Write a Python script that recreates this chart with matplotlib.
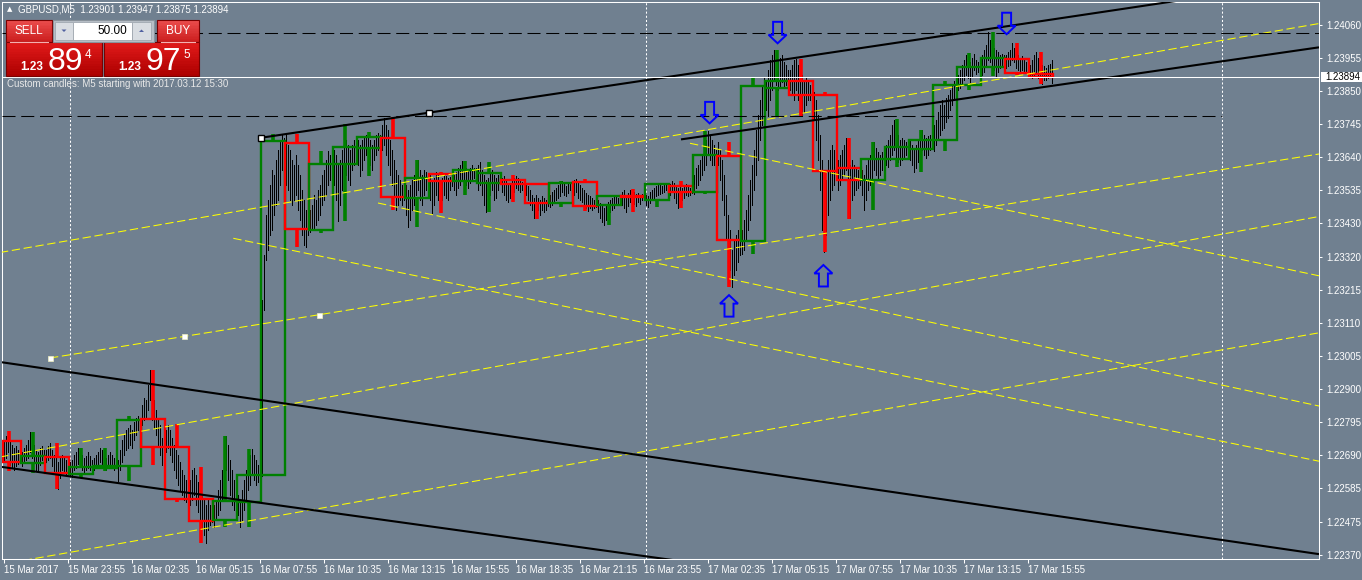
import numpy as np
import matplotlib
matplotlib.use("Agg")
import matplotlib.pyplot as plt
from matplotlib.patches import Rectangle, Polygon

# ---------------- data ----------------
# prices are stored in points (1 point = 0.00001)
# hourly custom candles (first one starts 3 bars before the first M5 bar)
h1_open = [122735, 122663, 122684, 122629, 122647, 122654, 122806, 122716, 122549, 122482, 122541,
           122626, 123682, 123406, 123618, 123668, 123700, 123509, 123584, 123563, 123555, 123565,
           123552, 123491, 123560, 123486, 123515, 123502, 123546, 123527, 123643, 123371, 123858,
           123882, 123836, 123603, 123565, 123634, 123664, 123693, 123868, 123926, 123951, 123903]
h1_high = [122767, 122764, 122729, 122713, 122713, 122815, 122960, 122787, 122650, 122751, 122709,
           123711, 123711, 123659, 123744, 123717, 123765, 123629, 123592, 123627, 123624, 123581,
           123555, 123563, 123569, 123515, 123536, 123555, 123563, 123722, 123687, 123891, 123979,
           123951, 123847, 123701, 123687, 123759, 123725, 123882, 123969, 124038, 124003, 123974]
h1_low = [122639, 122634, 122581, 122617, 122639, 122607, 122658, 122541, 122408, 122461, 122461,
          122623, 123353, 123397, 123436, 123578, 123470, 123417, 123459, 123518, 123464, 123496,
          123443, 123480, 123468, 123422, 123464, 123480, 123475, 123521, 123226, 123329, 123769,
          123769, 123337, 123443, 123470, 123608, 123590, 123658, 123852, 123897, 123900, 123871]
h1_close = [122666, 122686, 122633, 122650, 122654, 122801, 122716, 122549, 122479, 122544, 122626,
            123690, 123411, 123618, 123671, 123703, 123512, 123573, 123563, 123597, 123587, 123552,
            123491, 123555, 123483, 123514, 123510, 123552, 123527, 123646, 123374, 123865, 123882,
            123836, 123594, 123565, 123634, 123671, 123693, 123868, 123926, 123953, 123905, 123894]

# M5 bars (black bar chart), one line per hour
m5_high = [
    122738, 122750, 122766, 122738, 122722, 122712, 122719, 122706, 122699,
    122699, 122712, 122722, 122738, 122763, 122738, 122722, 122706, 122699, 122712, 122719, 122706,
    122706, 122719, 122728, 122706, 122690, 122680, 122668, 122680, 122690, 122680, 122674, 122668,
    122668, 122674, 122690, 122699, 122712, 122706, 122690, 122680, 122687, 122699, 122687, 122674,
    122680, 122690, 122699, 122712, 122706, 122690, 122680, 122690, 122699, 122690, 122680, 122680,
    122674, 122706, 122738, 122754, 122769, 122776, 122785, 122769, 122795, 122808, 122814, 122808,
    122849, 122871, 122865, 122913, 122961, 122897, 122865, 122833, 122801, 122785, 122744, 122763,
    122769, 122785, 122769, 122744, 122722, 122706, 122690, 122668, 122642, 122626, 122610, 122585,
    122610, 122642, 122648, 122626, 122604, 122578, 122562, 122546, 122531, 122546, 122531, 122515,
    122531, 122546, 122578, 122610, 122642, 122690, 122750, 122722, 122674, 122642, 122610, 122578,
    122562, 122546, 122578, 122610, 122642, 122674, 122690, 122709, 122690, 122674, 122658, 122642,
    123183, 123327, 123454, 123502, 123550, 123598, 123582, 123629, 123661, 123693, 123712, 123699,
    123709, 123677, 123661, 123629, 123613, 123645, 123613, 123582, 123534, 123502, 123470, 123454,
    123470, 123486, 123518, 123502, 123534, 123550, 123582, 123598, 123629, 123658, 123645, 123636,
    123661, 123645, 123613, 123629, 123661, 123744, 123693, 123677, 123661, 123677, 123693, 123687,
    123693, 123677, 123693, 123699, 123709, 123719, 123693, 123677, 123693, 123709, 123715, 123709,
    123741, 123763, 123741, 123725, 123693, 123661, 123629, 123598, 123582, 123566, 123550, 123534,
    123550, 123534, 123550, 123566, 123582, 123613, 123629, 123598, 123582, 123598, 123591, 123582,
    123582, 123566, 123572, 123591, 123582, 123566, 123572, 123582, 123578, 123572, 123575, 123572,
    123582, 123591, 123604, 123613, 123626, 123613, 123604, 123598, 123604, 123613, 123604, 123604,
    123613, 123623, 123598, 123582, 123566, 123572, 123591, 123598, 123582, 123572, 123582, 123588,
    123572, 123578, 123566, 123550, 123556, 123566, 123572, 123578, 123572, 123566, 123559, 123556,
    123553, 123547, 123534, 123518, 123508, 123518, 123508, 123502, 123515, 123508, 123502, 123502,
    123518, 123527, 123534, 123540, 123550, 123556, 123562, 123553, 123547, 123556, 123559, 123556,
    123566, 123569, 123559, 123550, 123540, 123534, 123524, 123518, 123515, 123508, 123502, 123496,
    123502, 123492, 123486, 123477, 123486, 123496, 123502, 123508, 123511, 123515, 123508, 123511,
    123527, 123534, 123518, 123524, 123534, 123537, 123527, 123521, 123524, 123518, 123521, 123518,
    123518, 123515, 123527, 123534, 123540, 123547, 123550, 123553, 123547, 123550, 123553, 123553,
    123553, 123562, 123556, 123547, 123540, 123550, 123540, 123547, 123553, 123547, 123540, 123537,
    123582, 123604, 123613, 123629, 123645, 123661, 123693, 123722, 123709, 123693, 123677, 123661,
    123687, 123661, 123629, 123582, 123518, 123454, 123406, 123343, 123375, 123391, 123406, 123400,
    123406, 123438, 123470, 123518, 123566, 123613, 123661, 123725, 123773, 123820, 123868, 123891,
    123884, 123916, 123948, 123964, 123980, 123964, 123948, 123954, 123964, 123942, 123932, 123916,
    123916, 123932, 123948, 123951, 123932, 123916, 123900, 123884, 123891, 123884, 123868, 123859,
    123846, 123820, 123773, 123709, 123629, 123502, 123566, 123629, 123661, 123677, 123661, 123629,
    123629, 123645, 123661, 123677, 123699, 123661, 123613, 123629, 123613, 123604, 123598, 123591,
    123598, 123582, 123613, 123629, 123645, 123661, 123687, 123668, 123655, 123645, 123655, 123645,
    123677, 123693, 123709, 123741, 123757, 123725, 123709, 123693, 123699, 123693, 123687, 123680,
    123693, 123677, 123668, 123677, 123693, 123709, 123725, 123709, 123699, 123706, 123709, 123703,
    123741, 123757, 123782, 123805, 123820, 123805, 123827, 123836, 123852, 123868, 123881, 123875,
    123900, 123916, 123932, 123948, 123964, 123948, 123942, 123954, 123967, 123948, 123942, 123935,
    123964, 123980, 123996, 124037, 124012, 123996, 123986, 123980, 123973, 123964, 123967, 123964,
    123964, 123973, 123980, 124002, 123986, 123973, 123964, 123954, 123961, 123948, 123942, 123932,
    123932, 123948, 123964, 123973, 123954, 123942, 123932, 123929, 123922, 123932, 123935, 123947,
]
m5_low = [
    122668, 122680, 122699, 122658, 122648, 122642, 122655, 122661, 122664,
    122655, 122668, 122674, 122680, 122699, 122680, 122668, 122642, 122636, 122658, 122674, 122680,
    122668, 122674, 122680, 122655, 122636, 122610, 122582, 122617, 122642, 122636, 122626, 122629,
    122623, 122620, 122642, 122648, 122661, 122655, 122642, 122636, 122642, 122648, 122642, 122648,
    122642, 122648, 122655, 122668, 122661, 122648, 122642, 122655, 122661, 122652, 122642, 122648,
    122607, 122642, 122668, 122690, 122706, 122712, 122722, 122712, 122738, 122754, 122769, 122776,
    122785, 122801, 122808, 122833, 122865, 122801, 122776, 122754, 122722, 122690, 122658, 122712,
    122699, 122712, 122690, 122668, 122642, 122617, 122594, 122578, 122562, 122546, 122540, 122546,
    122531, 122546, 122562, 122531, 122508, 122483, 122457, 122435, 122410, 122451, 122467, 122476,
    122461, 122483, 122499, 122515, 122546, 122578, 122642, 122610, 122562, 122531, 122515, 122531,
    122499, 122461, 122483, 122515, 122546, 122578, 122594, 122626, 122610, 122594, 122604, 122610,
    122623, 123152, 123311, 123343, 123391, 123406, 123454, 123486, 123502, 123550, 123598, 123629,
    123550, 123534, 123502, 123486, 123502, 123518, 123470, 123438, 123391, 123359, 123352, 123391,
    123400, 123406, 123413, 123422, 123438, 123454, 123486, 123502, 123518, 123550, 123566, 123591,
    123550, 123502, 123435, 123486, 123534, 123598, 123582, 123566, 123550, 123598, 123613, 123629,
    123613, 123578, 123598, 123629, 123645, 123636, 123613, 123598, 123629, 123645, 123661, 123677,
    123661, 123677, 123645, 123613, 123582, 123550, 123518, 123470, 123486, 123502, 123486, 123502,
    123454, 123416, 123438, 123470, 123486, 123518, 123534, 123502, 123486, 123518, 123534, 123550,
    123502, 123461, 123486, 123518, 123502, 123470, 123502, 123518, 123508, 123502, 123534, 123547,
    123534, 123518, 123540, 123550, 123566, 123559, 123550, 123540, 123556, 123566, 123572, 123582,
    123534, 123550, 123518, 123486, 123464, 123502, 123518, 123534, 123502, 123508, 123534, 123556,
    123527, 123518, 123502, 123496, 123508, 123518, 123527, 123540, 123534, 123527, 123534, 123540,
    123518, 123502, 123486, 123470, 123445, 123464, 123470, 123454, 123470, 123464, 123470, 123483,
    123480, 123486, 123496, 123502, 123508, 123515, 123527, 123518, 123515, 123524, 123534, 123540,
    123518, 123527, 123508, 123502, 123496, 123486, 123477, 123467, 123477, 123470, 123477, 123480,
    123464, 123445, 123432, 123422, 123438, 123454, 123464, 123470, 123477, 123486, 123489, 123496,
    123486, 123477, 123464, 123483, 123496, 123502, 123489, 123483, 123496, 123489, 123502, 123505,
    123486, 123480, 123492, 123502, 123508, 123515, 123518, 123521, 123524, 123527, 123534, 123540,
    123518, 123527, 123508, 123492, 123477, 123486, 123502, 123508, 123518, 123515, 123518, 123524,
    123521, 123540, 123550, 123566, 123582, 123598, 123613, 123645, 123629, 123613, 123613, 123629,
    123613, 123566, 123502, 123454, 123375, 123311, 123279, 123225, 123263, 123279, 123305, 123327,
    123330, 123343, 123375, 123406, 123438, 123486, 123534, 123582, 123629, 123693, 123741, 123805,
    123789, 123770, 123820, 123852, 123884, 123868, 123852, 123859, 123878, 123859, 123868, 123868,
    123852, 123836, 123820, 123852, 123820, 123789, 123770, 123782, 123805, 123820, 123820, 123827,
    123757, 123693, 123629, 123534, 123406, 123336, 123391, 123454, 123502, 123534, 123550, 123572,
    123534, 123550, 123566, 123582, 123598, 123502, 123445, 123502, 123518, 123534, 123540, 123550,
    123518, 123470, 123502, 123534, 123550, 123566, 123598, 123582, 123572, 123582, 123598, 123613,
    123613, 123607, 123629, 123645, 123661, 123636, 123623, 123613, 123629, 123636, 123645, 123655,
    123629, 123613, 123591, 123604, 123623, 123636, 123661, 123645, 123636, 123645, 123661, 123677,
    123658, 123677, 123693, 123709, 123725, 123731, 123750, 123763, 123789, 123805, 123820, 123836,
    123852, 123859, 123868, 123884, 123900, 123891, 123878, 123897, 123916, 123903, 123910, 123916,
    123900, 123910, 123932, 123948, 123942, 123922, 123916, 123897, 123910, 123922, 123929, 123942,
    123922, 123929, 123932, 123948, 123942, 123922, 123916, 123910, 123916, 123910, 123906, 123906,
    123897, 123891, 123900, 123910, 123891, 123878, 123871, 123884, 123884, 123891, 123897, 123875,
]

# trend lines: (bar1, price1, bar2, price2), drawn as rays to the right
black_trends = [(128.5, 1.23700, 212.5, 1.23780),
                (338.7, 1.23695, 518.2, 1.23860),
                (-1.8, 1.22986, 518.2, 1.225035),
                (-1.8, 1.226526, 148.2, 1.22520)]
yellow_trends = [(-1.8, 1.233348, 657.7, 1.24064),
                 (23.2, 1.229988, 657.7, 1.236485),
                 (-1.8, 1.226835, 657.7, 1.234494),
                 (-1.8, 1.223407, 657.2, 1.230784),
                 (114.85, 1.23380, 657.2, 1.226707),
                 (187.2, 1.234924, 657.2, 1.228465),
                 (343.2, 1.236826, 657.2, 1.232612)]
yellow_anchor_bars = [23.2, 90.35, 157.85]   # points on the 2nd yellow line
black_anchor_bars = [128.5, 212.5]           # points on the 1st black line
hlines_price = [1.24035, 1.23771]
hlines_end = [657.7, 609]
day_separators = [33, 321, 609]
bid_price = 1.23894

arrow_down = [(353, 1.23746), (387, 1.24001), (501.5, 1.24030)]
arrow_up = [(362.7, 1.23199), (409.9, 1.23295)]

y_ticks = [1.24060, 1.23955, 1.23850, 1.23745, 1.23640, 1.23535, 1.23430, 1.23320, 1.23215,
           1.23110, 1.23005, 1.22900, 1.22795, 1.22690, 1.22585, 1.22475, 1.22370]
x_labels = ["15 Mar 2017", "15 Mar 23:55", "16 Mar 02:35", "16 Mar 05:15", "16 Mar 07:55",
            "16 Mar 10:35", "16 Mar 13:15", "16 Mar 15:55", "16 Mar 18:35", "16 Mar 21:15",
            "16 Mar 23:55", "17 Mar 02:35", "17 Mar 05:15", "17 Mar 07:55", "17 Mar 10:35",
            "17 Mar 13:15", "17 Mar 15:55"]

# ---------------- plot ----------------
plt.rcParams['font.family'] = ['Liberation Sans', 'DejaVu Sans']
bg = '#708090'
W, H = 1362, 580
XMIN, XMAX = -0.8, 657.7

fig = plt.figure(figsize=(W / 100, H / 100), dpi=100, facecolor=bg)
ax = fig.add_axes([2 / W, (H - 559.3) / H, 1317 / W, 557.3 / H])
ax.set_facecolor(bg)
ax.set_xlim(XMIN, XMAX)
ax.set_ylim(1.223576, 1.241326)

# day separators
for b in day_separators:
    ax.axvline(b, color='white', lw=0.75, ls=(0, (2, 2)), zorder=1)

# M5 bars
hi = np.array(m5_high) / 1e5
lo = np.array(m5_low) / 1e5
bars = np.arange(len(hi))
ax.vlines(bars, lo, hi, color='black', lw=0.5, antialiased=False, zorder=2)

# hourly custom candles
for k in range(len(h1_open)):
    o, h, l, c = h1_open[k] / 1e5, h1_high[k] / 1e5, h1_low[k] / 1e5, h1_close[k] / 1e5
    start = -3 + 12 * k
    left = max(start, 0) - 0.3
    right = start + 12 - 0.3
    mid = start + 5.7
    col = '#008000' if c >= o else '#FF0000'
    top, bot = max(o, c), min(o, c)
    ax.add_patch(Rectangle((left, bot), right - left, top - bot, fill=False,
                           ec=col, lw=1.7, zorder=3))
    if h > top:
        ax.vlines(mid, top, h, color=col, lw=2.6, zorder=3)
    if l < bot:
        ax.vlines(mid, l, bot, color=col, lw=2.6, zorder=3)


def ray(b1, p1, b2, p2):
    slope = (p2 - p1) / (b2 - b1)
    return [b1, XMAX], [p1, p1 + slope * (XMAX - b1)]


for b1, p1, b2, p2 in yellow_trends:
    xs, ys = ray(b1, p1, b2, p2)
    ax.plot(xs, ys, color='#FFFF00', lw=0.75, ls=(0, (8, 3.5)), zorder=4)

for b1, p1, b2, p2 in black_trends:
    xs, ys = ray(b1, p1, b2, p2)
    ax.plot(xs, ys, color='black', lw=1.5, zorder=4, solid_capstyle='butt')

for p, end in zip(hlines_price, hlines_end):
    ax.plot([XMIN, end], [p, p], color='black', lw=0.75, ls=(0, (12.5, 5.5)), zorder=4)

ax.axhline(bid_price, color='white', lw=0.75, zorder=4)

# anchor squares
b1, p1, b2, p2 = yellow_trends[1]
ya = [p1 + (p2 - p1) / (b2 - b1) * (b - b1) for b in yellow_anchor_bars]
ax.plot(yellow_anchor_bars, ya, ls='none', marker='s', ms=3.6, mfc='white', mec='#F0F0C0',
        mew=0.5, zorder=5)
b1, p1, b2, p2 = black_trends[0]
ba = [p1 + (p2 - p1) / (b2 - b1) * (b - b1) for b in black_anchor_bars]
ax.plot(black_anchor_bars, ba, ls='none', marker='s', ms=3.8, mfc='white', mec='black',
        mew=1.0, zorder=5)

# axes styling
for s in ax.spines.values():
    s.set_color('white')
    s.set_linewidth(0.75)
ax.yaxis.tick_right()
ax.set_yticks(y_ticks)
ax.set_yticklabels([f"{v:.5f}" for v in y_ticks])
ax.set_xticks(np.arange(len(x_labels)) * 32)
ax.set_xticklabels(x_labels)
for lbl in ax.get_xticklabels():
    lbl.set_ha('left')
ax.tick_params(axis='y', colors='white', length=2.5, width=0.75, pad=2.5, labelsize=7)
ax.tick_params(axis='x', colors='white', length=3, width=0.75, pad=1, labelsize=7)

# ---------------- overlay in pixel coordinates ----------------
ov = fig.add_axes([0, 0, 1, 1], zorder=10)
ov.set_xlim(0, W)
ov.set_ylim(H, 0)
ov.axis('off')
ov.patch.set_alpha(0)


def to_px(b, p):
    x, y = ax.transData.transform((b, p))
    return x, H - y


# blue arrows (tip at the anchor, body away from the price)
shape = [(0, 0), (-9, 8.5), (-4.5, 8.5), (-4.5, 21.5), (4.5, 21.5), (4.5, 8.5), (9, 8.5)]
for pts, sign in [(arrow_down, -1), (arrow_up, 1)]:
    for b, p in pts:
        tx, ty = to_px(b, p)
        ov.add_patch(Polygon([(tx + sx, ty + sign * sy) for sx, sy in shape], closed=True,
                             fill=False, ec='#0000FF', lw=1.4))

# bid price label on the axis
_, by = to_px(0, bid_price)
ov.add_patch(Rectangle((1321, by - 4.8), 41, 9.6, fc='white', ec='none'))
ov.text(1325, by + 0.3, "1.23894", color='black', fontsize=7, va='center', ha='left')

# header texts
ov.text(6.5, 9.5, "\u25b2", color='white', fontsize=5, va='center', ha='left',
        family=['DejaVu Sans'])
ov.text(18, 10, "GBPUSD,M5  1.23901 1.23947 1.23875 1.23894", color='white', fontsize=7,
        va='center', ha='left')
ov.text(7, 84, "Custom candles: M5 starting with 2017.03.12 15:30", color='#E8E8E8',
        fontsize=7, va='center', ha='left')


def grad_box(x0, y0, x1, y1, c_top, c_bot, edge):
    n = 14
    ct, cb = np.array(c_top), np.array(c_bot)
    for i in range(n):
        t = i / (n - 1)
        ov.add_patch(Rectangle((x0, y0 + (y1 - y0) * i / n), x1 - x0, (y1 - y0) / n + 0.4,
                               fc=tuple(ct * (1 - t) + cb * t), ec='none'))
    ov.add_patch(Rectangle((x0, y0), x1 - x0, y1 - y0, fill=False, ec=edge, lw=0.8))


# one-click trading panel
grad_box(6, 20, 52, 42, (0.92, 0.30, 0.30), (0.80, 0.12, 0.12), '#7A0000')
grad_box(157, 20, 199, 42, (0.92, 0.30, 0.30), (0.80, 0.12, 0.12), '#7A0000')
grad_box(6, 42, 102, 76, (0.88, 0.10, 0.10), (0.68, 0.0, 0.0), '#7A0000')
grad_box(104, 42, 199, 76, (0.88, 0.10, 0.10), (0.68, 0.0, 0.0), '#7A0000')
ov.plot([10, 48], [41.5, 41.5], color='#F4B0B0', lw=0.8)
ov.plot([161, 195], [41.5, 41.5], color='#F4B0B0', lw=0.8)
ov.text(29, 31, "SELL", color='white', fontsize=8.5, ha='center', va='center')
ov.text(178, 31, "BUY", color='white', fontsize=8.5, ha='center', va='center')

ov.add_patch(Rectangle((53, 20), 101, 22, fc='#B9C0C8', ec='#8A939C', lw=0.8))
ov.add_patch(Rectangle((55, 22), 18, 18, fc='#D9DDE2', ec='#A0A8B0', lw=0.6))
ov.add_patch(Rectangle((73, 22), 59, 18, fc='white', ec='#A0A8B0', lw=0.6))
ov.add_patch(Rectangle((132, 22), 19, 18, fc='#D9DDE2', ec='#A0A8B0', lw=0.6))
ov.add_patch(Polygon([(61.5, 29.5), (66.5, 29.5), (64, 32)], closed=True, fc='#5060A0', ec='none'))
ov.add_patch(Polygon([(139, 32), (144, 32), (141.5, 29.5)], closed=True, fc='#5060A0', ec='none'))
ov.text(127, 31, "50.00", color='black', fontsize=8.5, ha='right', va='center')

for x0, big, sup in [(20, "89", "4"), (118, "97", "5")]:
    ov.text(x0, 69.5, "1.23", color='white', fontsize=8.5, fontweight='bold', ha='left',
            va='baseline')
    ov.text(x0 + 27.5, 70, big, color='white', fontsize=23, ha='left', va='baseline')
    ov.text(x0 + 65, 58.5, sup, color='white', fontsize=8.5, ha='left', va='baseline')

fig.savefig("out.png", dpi=100, facecolor=bg)
